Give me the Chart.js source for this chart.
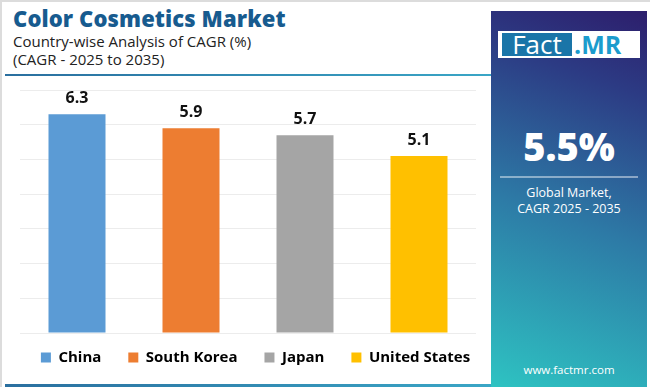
<!DOCTYPE html>
<html>
<head>
<meta charset="utf-8">
<script src="https://cdn.jsdelivr.net/npm/chart.js@4.4.1/dist/chart.umd.min.js"></script>
<style>
  html, body { margin: 0; padding: 0; background: #fff; }
  body { width: 650px; height: 387px; position: relative; overflow: hidden; font-family: "Open Sans", sans-serif; }
  #frame { position: absolute; left: 0; top: 0; width: 648px; height: 385px; border-top: 2px solid #dcdcdc; border-left: 2px solid #dcdcdc; }
  #title { position: absolute; left: 13px; top: 3px; font-size: 22px; font-weight: 800; color: #175b8f; letter-spacing: 0.1px; }
  #sub1 { position: absolute; left: 13px; top: 31px; font-size: 15px; color: #222; }
  #sub2 { position: absolute; left: 13px; top: 49px; font-size: 15px; color: #222; }
  #hline { position: absolute; left: 5px; top: 74px; width: 486px; height: 2px; background: linear-gradient(90deg, #2a6f9f, #3aa6c6); }
  #bline { position: absolute; left: 5px; top: 384px; width: 486px; height: 3px; background: linear-gradient(90deg, #2a6f9f, #3aa6c6); }
  #panel { position: absolute; z-index: 5; left: 491px; top: 11px; width: 156px; height: 376px;
    background: linear-gradient(20deg, #2ec3c2 0%, #2d7aa6 45%, #2c3b84 80%, #2d1e6c 100%); }
  #logo { position: absolute; left: 7px; top: 20px; width: 142px; height: 27px; background: #fff; }
  #fact { position: absolute; left: 4px; top: 2px; width: 70px; height: 23px; background: #1a75a8; color: #fff; font-size: 26px; line-height: 23px; text-align: center; font-family: "Open Sans", sans-serif; }
  #mr { position: absolute; left: 76px; top: 1px; color: #1b9ccd; font-size: 25px; line-height: 25px; font-weight: 700; font-family: "Open Sans", sans-serif; }
  #big { position: absolute; left: 0; width: 156px; top: 109px; text-align: center; color: #fff; font-size: 38px; font-weight: 800; }
  #sep { position: absolute; left: 9px; width: 138px; top: 165px; height: 2px; background: rgba(255,255,255,0.45); }
  #gm { position: absolute; left: 0; width: 156px; top: 174px; text-align: center; color: #fff; font-size: 12.5px; line-height: 16px; }
  #url { position: absolute; left: 0; width: 156px; top: 351px; text-align: center; color: #fff; font-size: 11.5px; }
  #wrap { position: absolute; left: 0; top: 80px; width: 511px; height: 305px; }
</style>
</head>
<body>
<div id="frame"></div>
<div id="title">Color Cosmetics Market</div>
<div id="sub1">Country-wise Analysis of CAGR (%)</div>
<div id="sub2">(CAGR - 2025 to 2035)</div>
<div id="hline"></div>
<div id="wrap"><canvas id="c" width="511" height="305"></canvas></div>
<div id="bline"></div>
<div id="panel">
  <div id="logo"><div id="fact">Fact</div><div id="mr">.MR</div></div>
  <div id="big">5.5%</div>
  <div id="sep"></div>
  <div id="gm">Global Market,<br>CAGR 2025 - 2035</div>
  <div id="url">www.factmr.com</div>
</div>
<script>
const categories = ["China", "South Korea", "Japan", "United States"];
const cagrValues = [6.3, 5.9, 5.7, 5.1];
const barColors = ["#5b9bd5", "#ed7d31", "#a5a5a5", "#ffc000"];

const valueLabels = {
  id: "valueLabels",
  afterDatasetsDraw(chart) {
    const ctx = chart.ctx;
    const meta = chart.getDatasetMeta(0);
    ctx.save();
    ctx.font = "bold 16px 'Open Sans', sans-serif";
    ctx.fillStyle = "#111";
    ctx.textAlign = "center";
    ctx.textBaseline = "middle";
    meta.data.forEach((bar, i) => {
      ctx.fillText(cagrValues[i].toFixed(1), bar.x, bar.y - 16);
    });
    ctx.restore();
  }
};

const legendShift = {
  id: "legendShift",
  afterLayout(chart) {
    if (chart.legend) { chart.legend.top -= 10; chart.legend.bottom -= 10; }
  }
};

new Chart(document.getElementById("c"), {
  type: "bar",
  data: {
    labels: categories,
    datasets: [{
      data: cagrValues,
      backgroundColor: barColors,
      borderWidth: 0,
      barPercentage: 0.5,
      categoryPercentage: 1.0
    }]
  },
  options: {
    responsive: false,
    animation: false,
    layout: { padding: { left: 0, right: 0, top: 10, bottom: 0 } },
    scales: {
      x: { display: false },
      y: {
        min: 0, max: 7,
        ticks: { display: false, stepSize: 1 },
        grid: { color: "#ececec", drawTicks: false },
        border: { display: false },
        afterFit(s) { s.width = 20; }
      },
      y2: {
        position: "right",
        min: 0, max: 7,
        ticks: { display: false },
        grid: { display: false, drawTicks: false },
        border: { display: false },
        afterFit(s) { s.width = 35; }
      }
    },
    plugins: {
      tooltip: { enabled: false },
      legend: {
        position: "bottom",
        labels: {
          boxWidth: 10, boxHeight: 10, padding: 27,
          color: "#111",
          font: { size: 15, weight: "bold", family: "'Open Sans', sans-serif" },
          generateLabels: () => categories.map((c, i) => ({
            text: c, fillStyle: barColors[i], strokeStyle: barColors[i], lineWidth: 0, index: i
          }))
        }
      }
    }
  },
  plugins: [valueLabels, legendShift]
});
</script>
</body>
</html>
